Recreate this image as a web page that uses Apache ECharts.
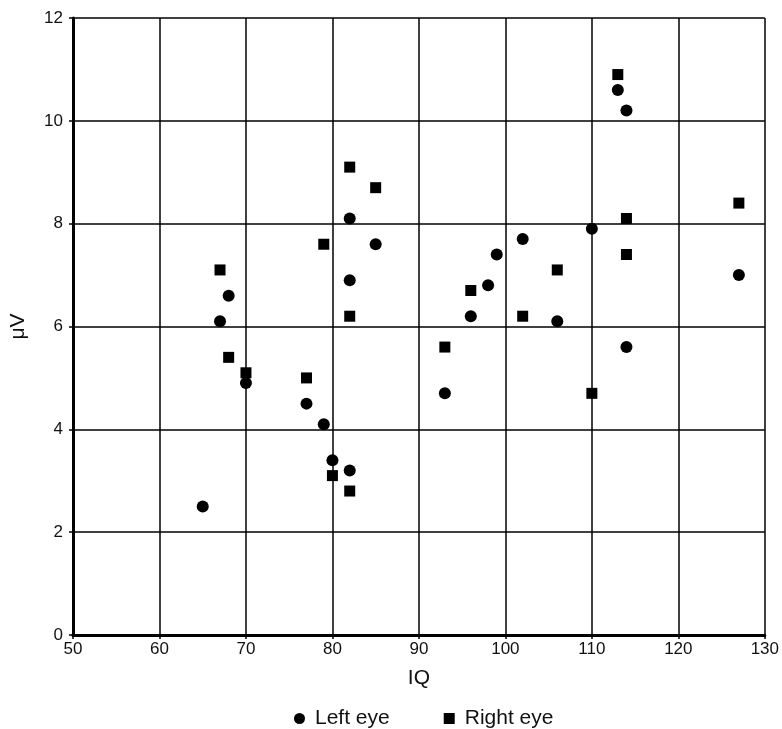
<!DOCTYPE html>
<html>
<head>
<meta charset="utf-8">
<script src="https://cdn.jsdelivr.net/npm/echarts@6/dist/echarts.min.js"></script>
<style>
  html, body { margin: 0; padding: 0; background: #fff; }
  #chart { width: 782px; height: 729px; }
</style>
</head>
<body>
<div id="chart"></div>
<script>
// left eye: IQ and amplitude (uV)
var leftIQ = [65, 67, 68, 70, 77, 79, 80, 82, 82, 82, 85, 93, 96, 98, 99, 102, 106, 110, 113, 114, 114, 127];
var leftUV = [2.5, 6.1, 6.6, 4.9, 4.5, 4.1, 3.4, 3.2, 6.9, 8.1, 7.6, 4.7, 6.2, 6.8, 7.4, 7.7, 6.1, 7.9, 10.6, 10.2, 5.6, 7.0];
// right eye
var rightIQ = [67, 68, 70, 77, 79, 80, 82, 82, 82, 85, 93, 96, 102, 106, 110, 113, 114, 114, 127];
var rightUV = [7.1, 5.4, 5.1, 5.0, 7.6, 3.1, 2.8, 6.2, 9.1, 8.7, 5.6, 6.7, 6.2, 7.1, 4.7, 10.9, 8.1, 7.4, 8.4];

var xTicks = [50, 60, 70, 80, 90, 100, 110, 120, 130];
var yTicks = [0, 2, 4, 6, 8, 10, 12];

function pairs(xs, ys) {
  var res = [];
  for (var i = 0; i < xs.length; i++) {
    res.push([xs[i], ys[i]]);
  }
  return res;
}

var font = 'Liberation Sans, Arial, sans-serif';
var myChart = echarts.init(document.getElementById('chart'));

var option = {
  backgroundColor: '#fff',
  animation: false,
  grid: { left: 68, right: 13, top: 18, bottom: 94 },
  legend: {
    top: 703,
    left: 289,
    itemGap: 54,
    itemWidth: 11,
    itemHeight: 11,
    textStyle: { color: '#111', fontSize: 21, fontFamily: font, padding: [0, 0, 0, 5] },
    data: [
      { name: 'Left eye', icon: 'circle' },
      { name: 'Right eye', icon: 'rect' }
    ]
  },
  xAxis: {
    type: 'value',
    min: xTicks[0],
    max: xTicks[xTicks.length - 1],
    interval: 10,
    name: 'IQ',
    nameLocation: 'middle',
    nameGap: 33,
    nameTextStyle: { color: '#111', fontSize: 21, fontFamily: font },
    axisLine: { show: true, onZero: false, lineStyle: { color: '#000', width: 3 } },
    axisTick: { show: true, inside: false, length: 4, lineStyle: { color: '#000', width: 1.5 } },
    axisLabel: { color: '#111', fontSize: 17, fontFamily: font, margin: 6 },
    splitLine: { show: true, lineStyle: { color: '#000', width: 1.5 } }
  },
  yAxis: {
    type: 'value',
    min: yTicks[0],
    max: yTicks[yTicks.length - 1],
    interval: 2,
    name: 'μV',
    nameLocation: 'middle',
    nameGap: 44,
    nameRotate: 90,
    nameTextStyle: { color: '#111', fontSize: 21, fontFamily: font },
    axisLine: { show: true, onZero: false, lineStyle: { color: '#000', width: 3 } },
    axisTick: { show: true, inside: false, length: 4, lineStyle: { color: '#000', width: 1.5 } },
    axisLabel: { color: '#111', fontSize: 17, fontFamily: font, margin: 10 },
    splitLine: { show: true, lineStyle: { color: '#000', width: 1.5 } }
  },
  series: [
    {
      name: 'Left eye',
      type: 'scatter',
      symbol: 'circle',
      symbolSize: 12,
      itemStyle: { color: '#000', opacity: 1 },
      data: pairs(leftIQ, leftUV)
    },
    {
      name: 'Right eye',
      type: 'scatter',
      symbol: 'rect',
      symbolSize: 11,
      itemStyle: { color: '#000', opacity: 1 },
      data: pairs(rightIQ, rightUV)
    }
  ]
};
myChart.setOption(option);
</script>
</body>
</html>
